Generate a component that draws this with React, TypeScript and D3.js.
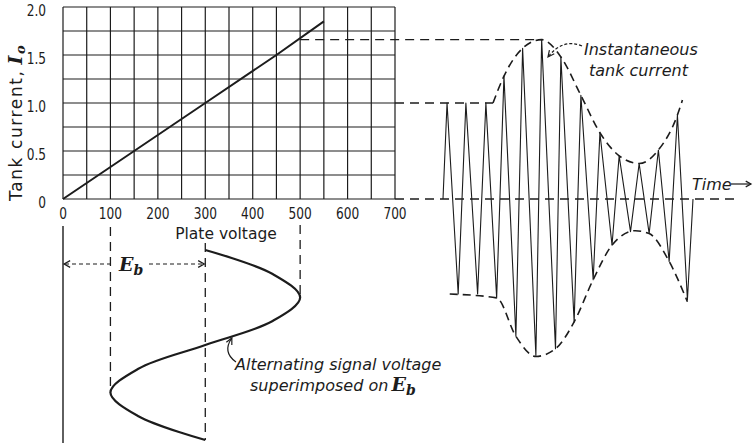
import * as d3 from 'd3'

// plate characteristic
const voltTicks = [0, 100, 200, 300, 400, 500, 600, 700]
const currentTicks = [0, 0.5, 1.0, 1.5, 2.0]
const characteristicV = [0, 150, 300, 450, 550]
const characteristicI = [0, 0.5, 1.0, 1.5, 1.85]

// alternating plate voltage, one cycle read top to bottom
const signalPhase = [0, 0.125, 0.25, 0.375, 0.5, 0.625, 0.75, 0.875, 1]
const signalVolts = [300, 441, 500, 441, 300, 159, 100, 159, 300]

// instantaneous tank current, alternate peaks and troughs
const waveTime = [
  0, 0.21, 0.79, 1.19, 1.8, 2.23, 2.79, 3.17, 3.79, 4.14, 4.83, 5.13, 5.85, 6.13,
  6.82, 7.17, 7.81, 8.16, 8.79, 9.16, 9.75, 10.2, 10.72, 11.2, 11.76, 12.19, 12.71, 13,
]
const waveCurrent = [
  0, 1.0, -0.99, 1.0, -0.99, 1.0, -1.03, 1.28, -1.43, 1.57, -1.63, 1.66, -1.56, 1.48,
  -1.28, 1.08, -0.84, 0.69, -0.48, 0.45, -0.34, 0.37, -0.36, 0.51, -0.65, 0.875, -1.05, 0,
]

// dashed envelopes
const upperEnvTime = [2.6, 3.17, 4.14, 5.13, 6.13, 7.17, 8.16, 9.16, 10.2, 11.2, 12.19, 12.45]
const upperEnvCurrent = [1.0, 1.28, 1.57, 1.66, 1.48, 1.08, 0.69, 0.45, 0.37, 0.51, 0.875, 1.03]
const lowerEnvTime = [0.35, 2.79, 3.79, 4.83, 5.85, 6.82, 7.81, 8.79, 10.0, 10.72, 11.76, 12.71]
const lowerEnvCurrent = [-0.99, -1.03, -1.43, -1.64, -1.56, -1.28, -0.84, -0.48, -0.33, -0.36, -0.65, -1.07]

const INK = '#1c1c1c'
const WIDE = "'DejaVu Sans', sans-serif"
const SERIF = "'DejaVu Serif', serif"

const xV = d3.scaleLinear().domain([0, 700]).range([63, 395])
const yI = d3.scaleLinear().domain([0, 2]).range([199, 7])
const xT = d3.scaleLinear().domain([0, 13]).range([443, 693])
const ySig = d3.scaleLinear().domain([0, 1]).range([250, 440])

const arrowHead = (tx: number, ty: number, angle: number, len = 7, spread = 0.45) => {
  const a1 = angle + Math.PI - spread
  const a2 = angle + Math.PI + spread
  return `M${tx + len * Math.cos(a1)},${ty + len * Math.sin(a1)}L${tx},${ty}L${tx + len * Math.cos(a2)},${ty + len * Math.sin(a2)}`
}

const App = () => {
  const charLine = d3
    .line<number>()
    .x((_, i) => xV(characteristicV[i]))
    .y((_, i) => yI(characteristicI[i]))(characteristicV)

  const signalLine = d3
    .line<number>()
    .curve(d3.curveCatmullRom)
    .x((_, i) => xV(signalVolts[i]))
    .y((_, i) => ySig(signalPhase[i]))(signalPhase)

  const waveLine = d3
    .line<number>()
    .x((_, i) => xT(waveTime[i]))
    .y((_, i) => yI(waveCurrent[i]))(waveTime)

  const upperEnv = d3
    .line<number>()
    .curve(d3.curveMonotoneX)
    .x((_, i) => xT(upperEnvTime[i]))
    .y((_, i) => yI(upperEnvCurrent[i]))(upperEnvTime)

  const lowerEnv = d3
    .line<number>()
    .curve(d3.curveMonotoneX)
    .x((_, i) => xT(lowerEnvTime[i]))
    .y((_, i) => yI(lowerEnvCurrent[i]))(lowerEnvTime)

  const gridV = d3.range(0, 701, 50)
  const gridI = d3.range(0, 2.001, 0.25)

  const ebY = 264
  const instTip = { x: xT(5.46), y: yI(1.48) }
  const altTip = { x: xV(356), y: ySig(0.463) }

  return (
    <svg
      width={756}
      height={443}
      style={{ position: 'absolute', left: 0, top: 0, background: '#fff' }}
    >
      {/* grid */}
      <g stroke={INK} strokeWidth={1.2}>
        {gridV.map((v) => (
          <line key={`v${v}`} x1={xV(v)} x2={xV(v)} y1={yI(2)} y2={yI(0)} />
        ))}
        {gridI.map((c) => (
          <line key={`h${c}`} x1={xV(0)} x2={xV(700)} y1={yI(c)} y2={yI(c)} />
        ))}
      </g>

      {/* tick labels, squeezed like the condensed lettering */}
      <g fill={INK} fontFamily={WIDE} fontSize={16}>
        {voltTicks.map((v) => (
          <text
            key={v}
            transform={`translate(${xV(v)},219) scale(0.76,1)`}
            textAnchor="middle"
          >
            {v}
          </text>
        ))}
        {currentTicks.map((c) => (
          <text
            key={c}
            transform={`translate(46,${yI(c) + 9}) scale(0.76,1)`}
            textAnchor="end"
          >
            {c === 0 ? '0' : c.toFixed(1)}
          </text>
        ))}
      </g>

      <text
        transform="translate(22,201) rotate(-90)"
        fill={INK}
        fontFamily={WIDE}
        fontSize={17}
        letterSpacing={1.6}
      >
        Tank current,
        <tspan fontFamily={SERIF} fontStyle="italic" fontWeight="bold" fontSize={19} dx={5}>
          I
        </tspan>
        <tspan fontFamily={SERIF} fontStyle="italic" fontWeight="bold" fontSize={13} dy={3}>
          o
        </tspan>
      </text>

      <text x={226} y={239} textAnchor="middle" fill={INK} fontFamily={WIDE} fontSize={15.5}>
        Plate voltage
      </text>

      {/* characteristic */}
      <path d={charLine ?? ''} fill="none" stroke={INK} strokeWidth={2} />

      {/* projection lines */}
      <g stroke={INK} strokeWidth={1.3} strokeDasharray="9 6" fill="none">
        <line x1={xV(500)} x2={xT(5.13)} y1={yI(1.66)} y2={yI(1.66)} />
        <line x1={xV(700)} x2={xT(2.6)} y1={yI(1.0)} y2={yI(1.0)} />
        <line x1={xV(700)} x2={740} y1={yI(0)} y2={yI(0)} />
        <line x1={xV(100)} x2={xV(100)} y1={227} y2={ySig(0.75)} />
        <line x1={xV(300)} x2={xV(300)} y1={243} y2={ySig(1)} />
        <line x1={xV(500)} x2={xV(500)} y1={225} y2={ySig(0.25)} />
      </g>
      <line x1={xV(0)} x2={xV(0)} y1={226} y2={443} stroke={INK} strokeWidth={1.4} />

      {/* E_b span */}
      <g stroke={INK} strokeWidth={1.2} fill="none">
        <line x1={xV(0) + 2} x2={xV(300) - 2} y1={ebY} y2={ebY} strokeDasharray="4 3" />
        <path d={arrowHead(xV(0) + 1, ebY, Math.PI, 7, 0.5)} />
        <path d={arrowHead(xV(300) - 1, ebY, 0, 7, 0.5)} />
      </g>
      <rect x={114} y={252} width={32} height={26} fill="#fff" />
      <text x={119} y={271} fill={INK} fontFamily={SERIF} fontStyle="italic" fontWeight="bold" fontSize={19}>
        E
        <tspan fontSize={14} dy={4}>
          b
        </tspan>
      </text>

      {/* signal voltage */}
      <path d={signalLine ?? ''} fill="none" stroke={INK} strokeWidth={2.2} />

      {/* tank current wave */}
      <path d={waveLine ?? ''} fill="none" stroke={INK} strokeWidth={1.1} strokeLinejoin="round" />
      <g stroke={INK} strokeWidth={1.6} strokeDasharray="8 5" fill="none">
        <path d={upperEnv ?? ''} />
        <path d={lowerEnv ?? ''} />
      </g>

      {/* annotations */}
      <g fill={INK} fontFamily={WIDE} fontStyle="italic" fontSize={16}>
        <text x={584} y={55}>Instantaneous</text>
        <text x={589} y={76}>tank current</text>
        <text x={235} y={370}>Alternating signal voltage</text>
        <text x={250} y={391}>
          superimposed on
          <tspan fontFamily={SERIF} fontWeight="bold" fontSize={19} dx={3}>
            E
          </tspan>
          <tspan fontFamily={SERIF} fontWeight="bold" fontSize={14} dy={4}>
            b
          </tspan>
        </text>
        <text x={692} y={190}>Time</text>
      </g>

      <g stroke={INK} strokeWidth={1.2} fill="none">
        <path
          d={`M582,46Q563,38 ${instTip.x},${instTip.y}`}
          strokeDasharray="3 2"
        />
        <path d={arrowHead(instTip.x, instTip.y, Math.atan2(instTip.y - 40, instTip.x - 561), 7, 0.45)} />
        <path d={`M236,362Q222,352 ${altTip.x},${altTip.y}`} />
        <path d={arrowHead(altTip.x, altTip.y, Math.atan2(altTip.y - 350, altTip.x - 226), 7, 0.45)} />
        <line x1={731} x2={751} y1={184} y2={184} />
        <path d={arrowHead(751, 184, 0, 6, 0.5)} />
      </g>
    </svg>
  )
}

export default App
